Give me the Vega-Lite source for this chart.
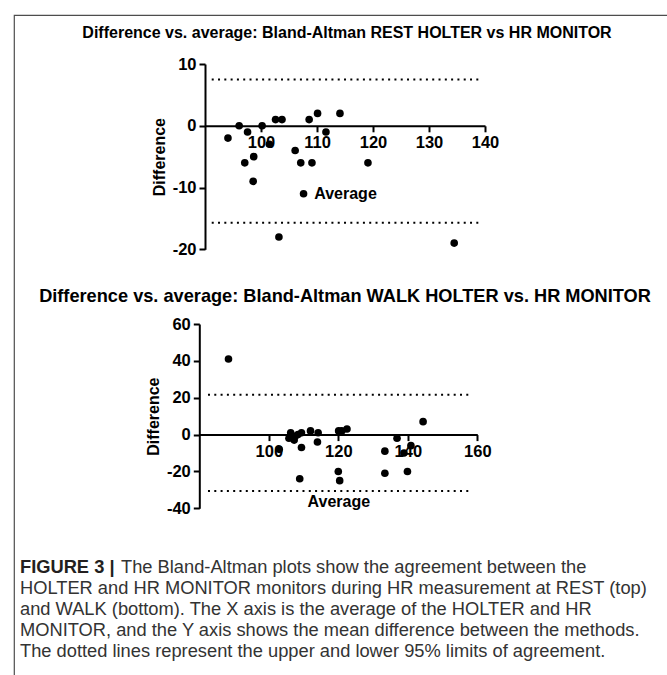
{
  "$schema": "https://vega.github.io/schema/vega-lite/v6.json",
  "width": 700,
  "height": 700,
  "autosize": "none",
  "padding": {"left": 14, "top": 15, "right": -47, "bottom": -40},
  "background": "white",
  "config": {
    "view": {"stroke": "#4d4d4d", "strokeWidth": 1.2},
    "font": "Liberation Sans",
    "axis": {
      "domainColor": "black", "domainWidth": 2, "tickColor": "black", "tickWidth": 2, "tickSize": 6,
      "labelFont": "Liberation Sans", "labelFontWeight": "bold", "labelFontSize": 16.5, "labelColor": "black",
      "titleFont": "Liberation Sans", "titleFontWeight": "bold", "titleFontSize": 16, "titleColor": "black",
      "grid": false, "labelPadding": 3, "labelOverlap": false, "labelFlush": false,
      "labelExpr": "'' + datum.value"
    }
  },
  "datasets": {
    "rest": [
      {"avg": 94.1, "diff": -2}, {"avg": 96.1, "diff": 0}, {"avg": 97.6, "diff": -1}, {"avg": 97.1, "diff": -6},
      {"avg": 98.7, "diff": -5}, {"avg": 98.6, "diff": -9}, {"avg": 100.2, "diff": 0}, {"avg": 101.5, "diff": -3},
      {"avg": 102.6, "diff": 1}, {"avg": 103.75, "diff": 1}, {"avg": 103.2, "diff": -18}, {"avg": 106.1, "diff": -4},
      {"avg": 107.1, "diff": -6}, {"avg": 107.6, "diff": -11}, {"avg": 108.6, "diff": 1}, {"avg": 109.1, "diff": -6},
      {"avg": 110.1, "diff": 2}, {"avg": 111.6, "diff": -1}, {"avg": 114.1, "diff": 2}, {"avg": 119.1, "diff": -6},
      {"avg": 134.5, "diff": -19}
    ],
    "restLoA": [
      {"x1": 91.2, "x2": 139.1, "y": 7.5},
      {"x1": 91.2, "x2": 139.1, "y": -15.7}
    ],
    "walk": [
      {"avg": 88.4, "diff": 41}, {"avg": 103, "diff": -8}, {"avg": 105.8, "diff": -2}, {"avg": 106.3, "diff": 1},
      {"avg": 107.3, "diff": -3}, {"avg": 107.5, "diff": -1}, {"avg": 108.4, "diff": 0}, {"avg": 109.4, "diff": 1},
      {"avg": 109.4, "diff": -7}, {"avg": 108.9, "diff": -24}, {"avg": 112, "diff": 2}, {"avg": 114.2, "diff": 1},
      {"avg": 114, "diff": -4}, {"avg": 120.1, "diff": 2}, {"avg": 121, "diff": 2}, {"avg": 122.5, "diff": 3},
      {"avg": 120, "diff": -20}, {"avg": 120.4, "diff": -25}, {"avg": 133.4, "diff": -9}, {"avg": 133.4, "diff": -21},
      {"avg": 136.9, "diff": -2}, {"avg": 138.9, "diff": -10}, {"avg": 140.9, "diff": -6}, {"avg": 139.9, "diff": -20},
      {"avg": 144.4, "diff": 7}
    ],
    "walkLoA": [
      {"x1": 82.5, "x2": 158.4, "y": 21.6},
      {"x1": 82.5, "x2": 158.4, "y": -30.6}
    ],
    "titles": [
      {"order": 1, "text": "Difference vs. average: Bland-Altman REST HOLTER vs HR MONITOR"},
      {"order": 2, "text": "Difference vs. average: Bland-Altman WALK HOLTER vs. HR MONITOR"}
    ],
    "caption": [
      {"line": 1, "part": "label", "text": "FIGURE 3 |"},
      {"line": 1, "part": "first", "text": "The Bland-Altman plots show the agreement between the"},
      {"line": 2, "part": "body", "text": "HOLTER and HR MONITOR monitors during HR measurement at REST (top)"},
      {"line": 3, "part": "body", "text": "and WALK (bottom). The X axis is the average of the HOLTER and HR"},
      {"line": 4, "part": "body", "text": "MONITOR, and the Y axis shows the mean difference between the methods."},
      {"line": 5, "part": "body", "text": "The dotted lines represent the upper and lower 95% limits of agreement."}
    ]
  },
  "layer": [
    {
      "data": {"name": "restLoA"},
      "mark": {"type": "rule", "strokeDash": [2, 4.3], "strokeWidth": 2, "color": "black"},
      "encoding": {
        "x": {"field": "x1", "type": "quantitative", "scale": {"domain": [90, 140], "range": [191, 471]}, "axis": null},
        "x2": {"field": "x2"},
        "y": {"field": "y", "type": "quantitative", "scale": {"domain": [-20, 10], "range": [234.3, 49]}, "axis": null}
      }
    },
    {
      "data": {"name": "rest"},
      "mark": {"type": "circle", "size": 58, "color": "black", "opacity": 1},
      "encoding": {
        "x": {"field": "avg", "type": "quantitative", "scale": {"domain": [90, 140], "range": [191, 471]},
          "axis": {"orient": "bottom", "offset": -589.2, "values": [100, 110, 120, 130, 140], "title": "Average", "titleY": 68, "titleBaseline": "middle"}},
        "y": {"field": "diff", "type": "quantitative", "scale": {"domain": [-20, 10], "range": [234.3, 49]},
          "axis": {"orient": "left", "offset": -191, "values": [-20, -10, 0, 10], "title": "Difference", "titleX": -46, "titleBaseline": "middle"}}
      }
    },
    {
      "data": {"name": "walkLoA"},
      "mark": {"type": "rule", "strokeDash": [2, 4.3], "strokeWidth": 2, "color": "black"},
      "encoding": {
        "x": {"field": "x1", "type": "quantitative", "scale": {"domain": [80, 160], "range": [185.3, 463.3]}, "axis": null},
        "x2": {"field": "x2"},
        "y": {"field": "y", "type": "quantitative", "scale": {"domain": [-40, 60], "range": [493.3, 309]}, "axis": null}
      }
    },
    {
      "data": {"name": "walk"},
      "mark": {"type": "circle", "size": 58, "color": "black", "opacity": 1},
      "encoding": {
        "x": {"field": "avg", "type": "quantitative", "scale": {"domain": [80, 160], "range": [185.3, 463.3]},
          "axis": {"orient": "bottom", "offset": -280.4, "values": [100, 120, 140, 160], "title": "Average", "titleY": 67, "titleBaseline": "middle"}},
        "y": {"field": "diff", "type": "quantitative", "scale": {"domain": [-40, 60], "range": [493.3, 309]},
          "axis": {"orient": "left", "offset": -185.3, "values": [-40, -20, 0, 20, 40, 60], "title": "Difference", "titleX": -46, "titleBaseline": "middle"}}
      }
    },
    {
      "data": {"name": "titles"},
      "transform": [{"filter": "datum.order === 1"}],
      "mark": {"type": "text", "font": "Liberation Sans", "fontWeight": "bold", "fontSize": 16, "align": "center", "baseline": "middle", "color": "black"},
      "encoding": {
        "x": {"value": 333},
        "y": {"field": "order", "type": "quantitative", "scale": {"domain": [1, 2], "range": [18, 282]}, "axis": null},
        "text": {"field": "text"}
      }
    },
    {
      "data": {"name": "titles"},
      "transform": [{"filter": "datum.order === 2"}],
      "mark": {"type": "text", "font": "Liberation Sans", "fontWeight": "bold", "fontSize": 18.2, "align": "center", "baseline": "middle", "color": "black"},
      "encoding": {
        "x": {"value": 331},
        "y": {"field": "order", "type": "quantitative", "scale": {"domain": [1, 2], "range": [18, 282]}, "axis": null},
        "text": {"field": "text"}
      }
    },
    {
      "data": {"name": "caption"},
      "transform": [{"filter": "datum.part === 'label'"}],
      "mark": {"type": "text", "font": "Liberation Sans", "fontWeight": "bold", "fontSize": 18.3, "align": "left", "baseline": "middle", "color": "#231f20"},
      "encoding": {
        "x": {"value": 6},
        "y": {"field": "line", "type": "quantitative", "scale": {"domain": [1, 5], "range": [553, 637]}, "axis": null},
        "text": {"field": "text"}
      }
    },
    {
      "data": {"name": "caption"},
      "transform": [{"filter": "datum.part === 'first'"}],
      "mark": {"type": "text", "font": "Liberation Sans", "fontSize": 18.3, "align": "left", "baseline": "middle", "color": "#333333", "dx": 101},
      "encoding": {
        "x": {"value": 6},
        "y": {"field": "line", "type": "quantitative", "scale": {"domain": [1, 5], "range": [553, 637]}, "axis": null},
        "text": {"field": "text"}
      }
    },
    {
      "data": {"name": "caption"},
      "transform": [{"filter": "datum.part === 'body'"}],
      "mark": {"type": "text", "font": "Liberation Sans", "fontSize": 18.3, "align": "left", "baseline": "middle", "color": "#333333"},
      "encoding": {
        "x": {"value": 6},
        "y": {"field": "line", "type": "quantitative", "scale": {"domain": [1, 5], "range": [553, 637]}, "axis": null},
        "text": {"field": "text"}
      }
    }
  ],
  "resolve": {
    "scale": {"x": "independent", "y": "independent"},
    "axis": {"x": "independent", "y": "independent"}
  }
}
